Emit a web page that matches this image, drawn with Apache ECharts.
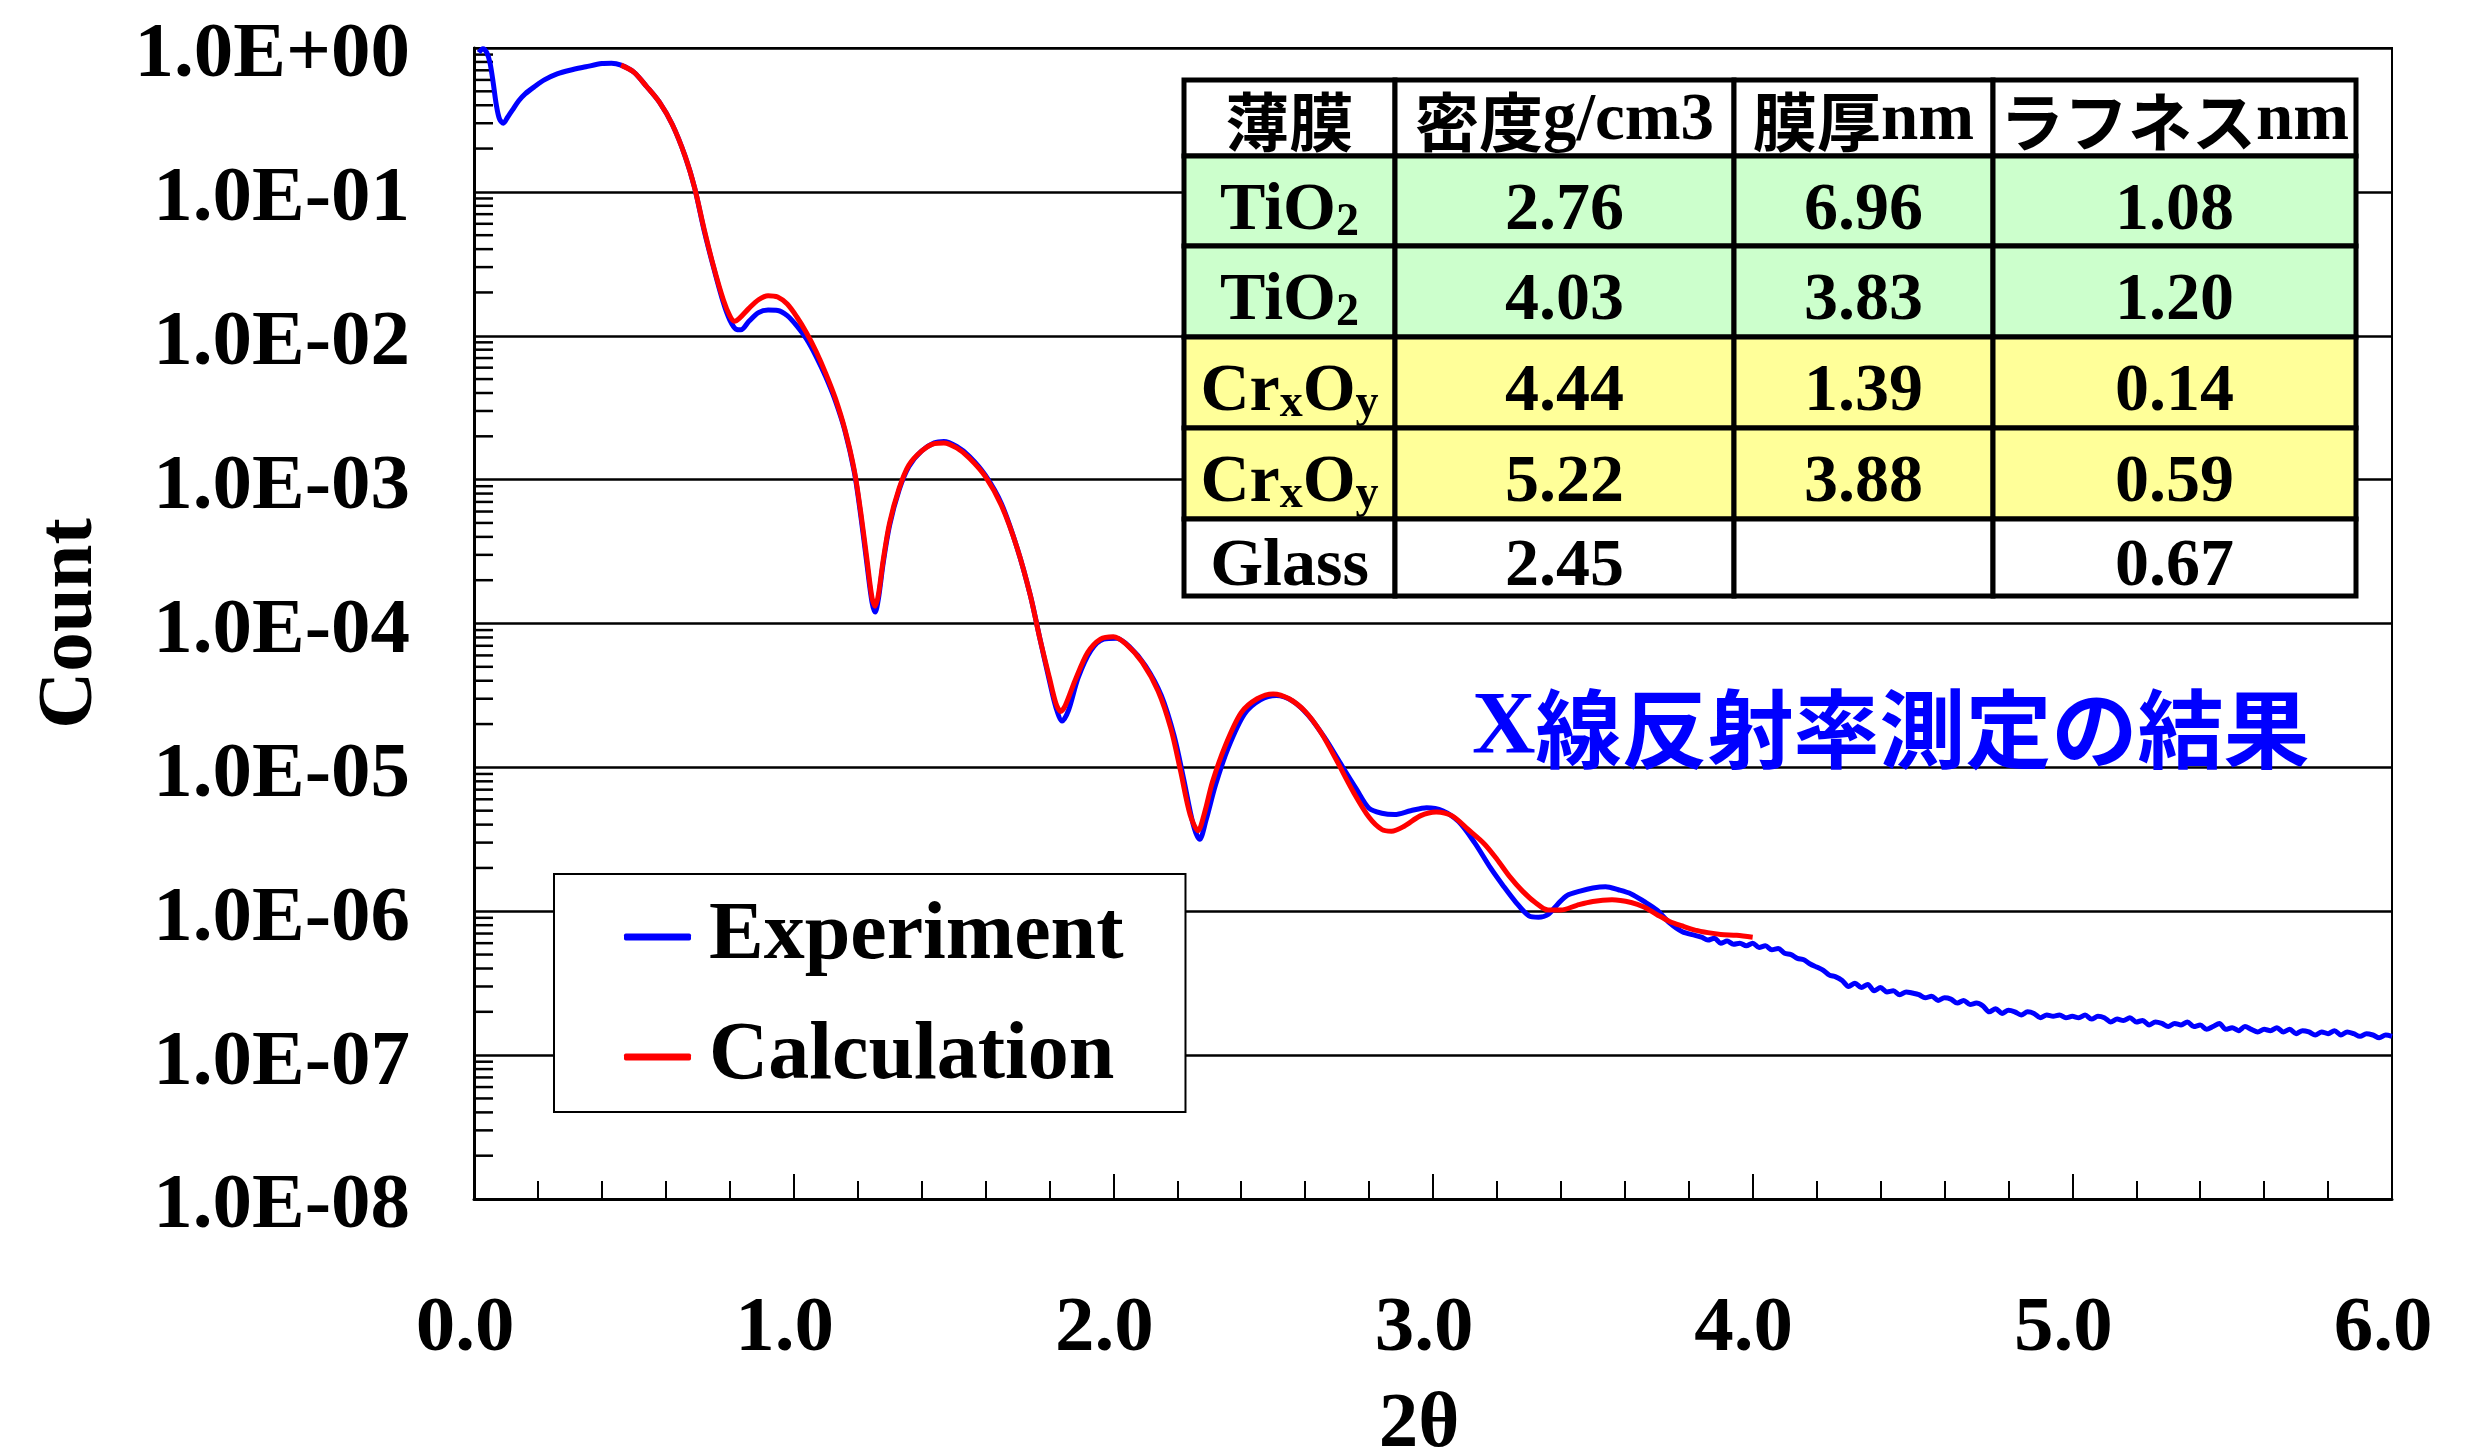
<!DOCTYPE html>
<html>
<head>
<meta charset="utf-8">
<title>X線反射率測定の結果</title>
<script src="https://cdn.jsdelivr.net/npm/echarts@6/dist/echarts.min.js"></script>
<style>
  html, body { margin: 0; padding: 0; background: #fff; }
  #chart { width: 2489px; height: 1449px; }
</style>
</head>
<body>
<div id="chart"></div>
<script>
// ---- data -------------------------------------------------------------
// Measured reflectivity: [2θ (deg), count]
const experiment = [
  [0.015, 0.93], [0.028, 0.99], [0.040, 0.93], [0.050, 0.79], [0.060, 0.575],
  [0.070, 0.40], [0.080, 0.32], [0.092, 0.30], [0.105, 0.33], [0.120, 0.37],
  [0.140, 0.43], [0.160, 0.48], [0.190, 0.54], [0.220, 0.60], [0.260, 0.66],
  [0.300, 0.70], [0.350, 0.74], [0.400, 0.78], [0.430, 0.785], [0.460, 0.76],
  [0.500, 0.68], [0.540, 0.54], [0.580, 0.42], [0.620, 0.295], [0.660, 0.178],
  [0.690, 0.107], [0.720, 0.0537], [0.750, 0.0295], [0.780, 0.017], [0.800, 0.0129],
  [0.820, 0.0111], [0.835, 0.0110], [0.860, 0.0126], [0.890, 0.0145], [0.920, 0.0151],
  [0.950, 0.0150], [0.980, 0.0138], [1.010, 0.0117], [1.040, 0.0095], [1.070, 0.0072],
  [1.100, 0.0052], [1.130, 0.00355], [1.160, 0.0022], [1.190, 0.00112], [1.210, 5.6e-4],
  [1.230, 2.5e-4], [1.245, 1.41e-4], [1.255, 1.2e-4], [1.265, 1.48e-4], [1.280, 2.63e-4],
  [1.300, 4.8e-4], [1.330, 8.5e-4], [1.360, 1.23e-3], [1.400, 1.58e-3], [1.440, 1.8e-3],
  [1.470, 1.84e-3], [1.510, 1.7e-3], [1.550, 1.45e-3], [1.600, 1.07e-3], [1.650, 6.8e-4],
  [1.700, 3.3e-4], [1.740, 1.58e-4], [1.770, 7.9e-5], [1.800, 4.0e-5], [1.820, 2.63e-5],
  [1.840, 2.1e-5], [1.860, 2.5e-5], [1.890, 4.2e-5], [1.930, 6.5e-5], [1.970, 7.8e-5],
  [2.010, 7.9e-5], [2.050, 6.9e-5], [2.100, 5.1e-5], [2.150, 3.16e-5], [2.190, 1.66e-5],
  [2.220, 8.3e-6], [2.250, 4.0e-6], [2.270, 3.16e-6], [2.290, 4.3e-6], [2.320, 7.6e-6],
  [2.360, 1.38e-5], [2.410, 2.35e-5], [2.460, 2.95e-5], [2.510, 3.16e-5], [2.560, 2.9e-5],
  [2.610, 2.3e-5], [2.660, 1.62e-5], [2.710, 1.07e-5], [2.760, 7.1e-6], [2.800, 5.2e-6],
  [2.840, 4.8e-6], [2.880, 4.7e-6], [2.930, 5.0e-6], [2.980, 5.25e-6], [3.030, 5.0e-6],
  [3.080, 4.2e-6], [3.130, 3.0e-6], [3.180, 2.0e-6], [3.220, 1.5e-6], [3.260, 1.15e-6],
  [3.300, 9.3e-7], [3.330, 9.1e-7], [3.360, 9.5e-7], [3.390, 1.12e-6], [3.420, 1.29e-6],
  [3.460, 1.38e-6], [3.500, 1.45e-6], [3.540, 1.48e-6], [3.580, 1.41e-6], [3.620, 1.32e-6],
  [3.660, 1.17e-6], [3.700, 1.02e-6], [3.740, 8.3e-7], [3.780, 7.2e-7], [3.820, 6.8e-7],
  [3.84, 6.6e-7], [3.86, 6.3e-7], [3.88, 6.5e-7], [3.90, 6.0e-7], [3.92, 6.2e-7],
  [3.94, 5.9e-7], [3.96, 6.0e-7], [3.98, 5.75e-7], [4.00, 6.0e-7], [4.02, 5.6e-7],
  [4.04, 5.75e-7], [4.06, 5.4e-7], [4.08, 5.5e-7], [4.10, 5.1e-7], [4.12, 5.0e-7],
  [4.14, 4.7e-7], [4.16, 4.6e-7], [4.18, 4.3e-7], [4.20, 4.1e-7], [4.22, 3.9e-7],
  [4.24, 3.6e-7], [4.26, 3.5e-7], [4.28, 3.3e-7], [4.30, 3.0e-7], [4.32, 3.16e-7],
  [4.34, 2.95e-7], [4.36, 3.1e-7], [4.38, 2.8e-7], [4.40, 2.95e-7], [4.42, 2.75e-7],
  [4.44, 2.8e-7], [4.46, 2.63e-7], [4.48, 2.75e-7], [4.50, 2.7e-7], [4.52, 2.63e-7],
  [4.54, 2.5e-7], [4.56, 2.57e-7], [4.58, 2.4e-7], [4.60, 2.5e-7], [4.62, 2.45e-7],
  [4.64, 2.3e-7], [4.66, 2.4e-7], [4.68, 2.25e-7], [4.70, 2.3e-7], [4.72, 2.2e-7],
  [4.74, 2.0e-7], [4.76, 2.1e-7], [4.78, 1.95e-7], [4.80, 2.05e-7], [4.82, 2.0e-7],
  [4.84, 1.9e-7], [4.86, 2.0e-7], [4.88, 1.95e-7], [4.90, 1.82e-7], [4.92, 1.9e-7],
  [4.94, 1.86e-7], [4.96, 1.9e-7], [4.98, 1.82e-7], [5.00, 1.86e-7], [5.02, 1.82e-7],
  [5.04, 1.9e-7], [5.06, 1.78e-7], [5.08, 1.86e-7], [5.10, 1.82e-7], [5.12, 1.70e-7],
  [5.14, 1.78e-7], [5.16, 1.74e-7], [5.18, 1.82e-7], [5.20, 1.70e-7], [5.22, 1.74e-7],
  [5.24, 1.62e-7], [5.26, 1.70e-7], [5.28, 1.66e-7], [5.30, 1.58e-7], [5.32, 1.66e-7],
  [5.34, 1.62e-7], [5.36, 1.70e-7], [5.38, 1.58e-7], [5.40, 1.62e-7], [5.42, 1.51e-7],
  [5.44, 1.58e-7], [5.46, 1.66e-7], [5.48, 1.51e-7], [5.50, 1.55e-7], [5.52, 1.48e-7],
  [5.54, 1.58e-7], [5.56, 1.51e-7], [5.58, 1.45e-7], [5.60, 1.51e-7], [5.62, 1.48e-7],
  [5.64, 1.55e-7], [5.66, 1.45e-7], [5.68, 1.51e-7], [5.70, 1.41e-7], [5.72, 1.48e-7],
  [5.74, 1.45e-7], [5.76, 1.38e-7], [5.78, 1.45e-7], [5.80, 1.41e-7], [5.82, 1.48e-7],
  [5.84, 1.38e-7], [5.86, 1.45e-7], [5.88, 1.41e-7], [5.90, 1.35e-7], [5.92, 1.41e-7],
  [5.94, 1.38e-7], [5.96, 1.32e-7], [5.98, 1.38e-7], [6.00, 1.35e-7]
];

// Fitted model: [2θ (deg), count]
const calculation = [
  [0.46, 0.76], [0.50, 0.68], [0.54, 0.54], [0.58, 0.42], [0.62, 0.295],
  [0.66, 0.178], [0.69, 0.107], [0.72, 0.055], [0.75, 0.030], [0.78, 0.0178],
  [0.80, 0.0138], [0.815, 0.0126], [0.83, 0.0132], [0.86, 0.0155], [0.89, 0.0178],
  [0.92, 0.019], [0.95, 0.0186], [0.98, 0.0166], [1.01, 0.0135], [1.04, 0.0105],
  [1.07, 0.0078], [1.10, 0.0055], [1.13, 0.0037], [1.16, 0.00224], [1.19, 0.00115],
  [1.21, 5.9e-4], [1.23, 2.7e-4], [1.245, 1.51e-4], [1.255, 1.32e-4], [1.265, 1.58e-4],
  [1.28, 2.75e-4], [1.30, 5.0e-4], [1.33, 8.7e-4], [1.36, 1.26e-3], [1.40, 1.58e-3],
  [1.44, 1.78e-3], [1.47, 1.8e-3], [1.51, 1.66e-3], [1.55, 1.41e-3], [1.60, 1.05e-3],
  [1.65, 6.6e-4], [1.70, 3.3e-4], [1.74, 1.58e-4], [1.77, 7.9e-5], [1.80, 4.2e-5],
  [1.82, 2.8e-5], [1.835, 2.45e-5], [1.85, 2.7e-5], [1.88, 4.0e-5], [1.92, 6.3e-5],
  [1.96, 7.8e-5], [2.00, 8.1e-5], [2.04, 7.2e-5], [2.09, 5.4e-5], [2.14, 3.4e-5],
  [2.18, 1.86e-5], [2.21, 9.5e-6], [2.24, 4.7e-6], [2.265, 3.63e-6], [2.285, 4.8e-6],
  [2.31, 7.9e-6], [2.35, 1.41e-5], [2.40, 2.4e-5], [2.45, 3.0e-5], [2.50, 3.24e-5],
  [2.55, 3.0e-5], [2.60, 2.45e-5], [2.65, 1.74e-5], [2.70, 1.1e-5], [2.75, 6.8e-6],
  [2.80, 4.5e-6], [2.84, 3.7e-6], [2.87, 3.6e-6], [2.91, 3.9e-6], [2.96, 4.6e-6],
  [3.01, 4.9e-6], [3.06, 4.6e-6], [3.11, 3.7e-6], [3.16, 2.95e-6], [3.20, 2.3e-6],
  [3.24, 1.74e-6], [3.28, 1.38e-6], [3.32, 1.15e-6], [3.36, 1.02e-6], [3.40, 1.02e-6],
  [3.45, 1.1e-6], [3.50, 1.17e-6], [3.56, 1.2e-6], [3.62, 1.15e-6], [3.66, 1.07e-6],
  [3.70, 9.5e-7], [3.74, 8.5e-7], [3.78, 7.9e-7], [3.82, 7.4e-7], [3.86, 7.1e-7],
  [3.90, 6.9e-7], [3.95, 6.8e-7], [4.00, 6.6e-7]
];

// Axis tick labels
const xTickLabels = ['0.0', '1.0', '2.0', '3.0', '4.0', '5.0', '6.0'];
const yTickLabels = ['1.0E-08', '1.0E-07', '1.0E-06', '1.0E-05', '1.0E-04', '1.0E-03', '1.0E-02', '1.0E-01', '1.0E+00'];
const yDecades = [1e-8, 1e-7, 1e-6, 1e-5, 1e-4, 1e-3, 1e-2, 1e-1];
const yMinorMantissas = [2, 3, 4, 5, 6, 7, 8, 9];

// Fitted layer parameters (table)
const tableHeader = ['薄膜', '密度g/cm3', '膜厚nm', 'ラフネスnm'];
const layerNames = ['TiO_2', 'TiO_2', 'Cr_xO_y', 'Cr_xO_y', 'Glass'];
const layerDensity = ['2.76', '4.03', '4.44', '5.22', '2.45'];
const layerThickness = ['6.96', '3.83', '1.39', '3.88', ''];
const layerRoughness = ['1.08', '1.20', '0.14', '0.59', '0.67'];

const seriesNames = ['Experiment', 'Calculation'];
const titleText = 'X線反射率測定の結果';

// ---- styling ----------------------------------------------------------
const SERIF = '"Liberation Serif", "Times New Roman", serif';
const CJK = '"Noto Sans CJK JP", "Noto Sans CJK SC", sans-serif';
const BLUE = '#0000ff';
const RED = '#ff0000';

const colEdges = [1184, 1395, 1734, 1993, 2356];
const rowEdges = [80, 156, 246, 337, 428, 519, 596];
const rowFills = ['#ffffff', '#ccffcc', '#ccffcc', '#ffff99', '#ffff99', '#ffffff'];

const CJK_RE = /[\u3040-\u30ff\u4e00-\u9fff]/;

// split mixed Japanese / Latin text into rich-text runs
function mixedRich(s, jKey, eKey) {
  return s.split(/([\u3040-\u30ff\u4e00-\u9fff]+)/).filter(Boolean)
    .map(t => CJK_RE.test(t) ? '{' + jKey + '|' + t + '}' : '{' + eKey + '|' + t + '}').join('');
}
// chemical formula with "_c" meaning subscript c
function formulaRich(s) {
  return s.split(/(_.)/).filter(Boolean)
    .map(t => t[0] === '_' ? '{s|' + t[1] + '}' : '{n|' + t + '}').join('');
}

const cellRich = {
  n: { fontFamily: SERIF, fontWeight: 'bold', fontSize: 68, lineHeight: 70, fill: '#000' },
  s: { fontFamily: SERIF, fontWeight: 'bold', fontSize: 46, lineHeight: 40, verticalAlign: 'bottom', fill: '#000' },
  j: { fontFamily: CJK, fontWeight: 'bold', fontSize: 64, lineHeight: 70, fill: '#000' },
  e: { fontFamily: SERIF, fontWeight: 'bold', fontSize: 67, lineHeight: 70, fill: '#000' }
};

function buildTable() {
  const elems = [];
  const rows = [tableHeader.map(h => mixedRich(h, 'j', 'e'))];
  for (let i = 0; i < layerNames.length; i++) {
    rows.push([formulaRich(layerNames[i]), '{n|' + layerDensity[i] + '}',
               layerThickness[i] ? '{n|' + layerThickness[i] + '}' : '',
               '{n|' + layerRoughness[i] + '}']);
  }
  for (let r = 0; r < rows.length; r++) {
    const y0 = rowEdges[r], y1 = rowEdges[r + 1];
    for (let c = 0; c < 4; c++) {
      const x0 = colEdges[c], x1 = colEdges[c + 1];
      elems.push({
        type: 'rect', z: 100,
        shape: { x: x0, y: y0, width: x1 - x0, height: y1 - y0 },
        style: { fill: rowFills[r], stroke: '#000', lineWidth: 5 }
      });
      if (rows[r][c]) {
        elems.push({
          type: 'text', z: 101,
          style: {
            text: rows[r][c], x: (x0 + x1) / 2, y: (y0 + y1) / 2 + (r === 0 ? 4 : 10),
            align: 'center', verticalAlign: 'middle', rich: cellRich
          }
        });
      }
    }
  }
  return elems;
}

const minorTicks = [];
yDecades.forEach(d => yMinorMantissas.forEach(m => minorTicks.push([0, m * d])));

const chart = echarts.init(document.getElementById('chart'), null, { renderer: 'canvas' });

chart.setOption({
  animation: false,
  backgroundColor: '#fff',
  grid: {
    left: 474, right: 97, top: 48, bottom: 250,
    containLabel: false, outerBoundsMode: 'none',
    show: true, borderColor: '#000', borderWidth: 2, backgroundColor: '#fff'
  },
  legend: {
    data: seriesNames,
    orient: 'vertical', left: 554, top: 874,
    padding: [13, 62, 5, 70], itemGap: 20,
    itemWidth: 67, itemHeight: 7, icon: 'roundRect',
    backgroundColor: '#fff', borderColor: '#000', borderWidth: 2, borderRadius: 0,
    selectedMode: false,
    textStyle: { fontFamily: SERIF, fontWeight: 'bold', fontSize: 82, lineHeight: 80, color: '#000', padding: [20, 0, 0, 13] }
  },
  xAxis: {
    type: 'value', min: 0, max: 6, interval: 1,
    axisLine: { show: true, lineStyle: { color: '#000', width: 3 } },
    axisTick: { show: true, inside: true, length: 25, lineStyle: { color: '#000', width: 2 } },
    minorTick: { show: true, splitNumber: 5, length: 18, lineStyle: { color: '#000', width: 2 } },
    splitLine: { show: false },
    axisLabel: {
      margin: 91, color: '#000', fontFamily: SERIF, fontWeight: 'bold', fontSize: 79,
      padding: [0, 18, 0, 0],
      formatter: v => xTickLabels[Math.round(v)]
    },
    name: '2θ', nameLocation: 'middle', nameGap: 187,
    nameTextStyle: { color: '#000', fontFamily: SERIF, fontWeight: 'bold', fontSize: 79, padding: [0, 28, 0, 0] }
  },
  yAxis: {
    type: 'log', logBase: 10, min: 1e-8, max: 1, splitNumber: 8,
    axisLine: { show: true, lineStyle: { color: '#000', width: 3 } },
    axisTick: { show: false },
    splitLine: { show: true, lineStyle: { color: '#000', width: 2.5 } },
    axisLabel: {
      margin: 64, color: '#000', fontFamily: SERIF, fontWeight: 'bold', fontSize: 79,
      verticalAlign: 'top', lineHeight: 16,
      showMinLabel: true, showMaxLabel: true,
      formatter: v => yTickLabels[Math.round(Math.log10(v)) + 8]
    },
    name: 'Count', nameLocation: 'middle', nameRotate: 90, nameGap: 364,
    nameTextStyle: { color: '#000', fontFamily: SERIF, fontWeight: 'bold', fontSize: 79 }
  },
  series: [
    {
      type: 'custom', name: 'minorY', silent: true, z: 1, clip: false,
      data: minorTicks,
      renderItem: (params, api) => {
        const p = api.coord([0, api.value(1)]);
        return {
          type: 'line',
          shape: { x1: p[0], y1: p[1], x2: p[0] + 19, y2: p[1] },
          style: { stroke: '#000', lineWidth: 2.5 }
        };
      }
    },
    {
      type: 'line', name: seriesNames[0], data: experiment,
      showSymbol: false, symbol: 'none', smooth: 0.3, z: 3,
      lineStyle: { color: BLUE, width: 5 }, itemStyle: { color: BLUE }
    },
    {
      type: 'line', name: seriesNames[1], data: calculation,
      showSymbol: false, symbol: 'none', smooth: 0.3, z: 4,
      lineStyle: { color: RED, width: 5 }, itemStyle: { color: RED }
    }
  ],
  graphic: buildTable().concat([
    {
      type: 'text', z: 101,
      style: {
        text: mixedRich(titleText, 'j', 'e'),
        x: 1472, y: 729, align: 'left', verticalAlign: 'middle',
        rich: {
          j: { fontFamily: CJK, fontWeight: 'bold', fontSize: 86, fill: BLUE },
          e: { fontFamily: SERIF, fontWeight: 'bold', fontSize: 88, fill: BLUE }
        }
      }
    }
  ])
});
</script>
</body>
</html>
